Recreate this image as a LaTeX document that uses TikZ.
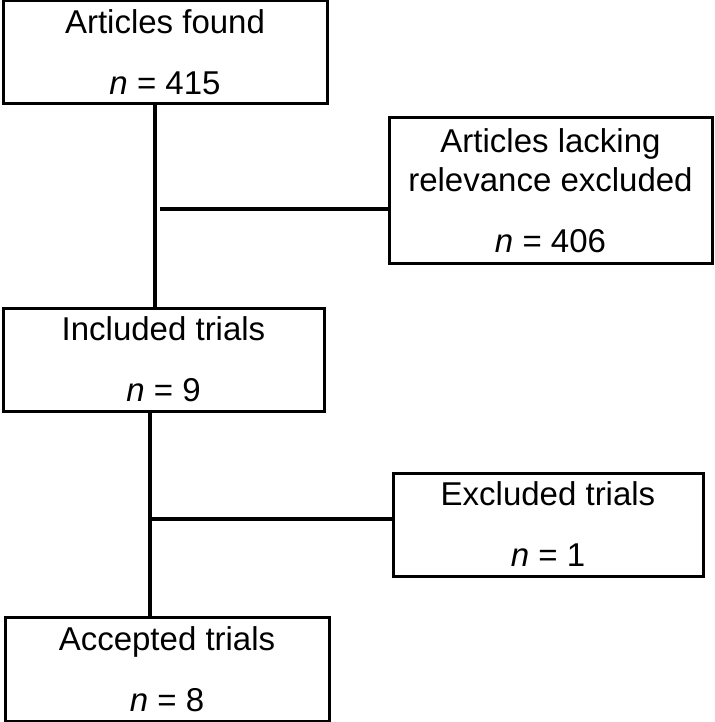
\documentclass[tikz,border=0pt]{standalone}
\usepackage{fontspec}
\setmainfont{Liberation Sans}
\usepackage{tikz}
\usetikzlibrary{calc}
\tikzset{
    box/.style={draw, line width=3pt, align=center, inner sep=0pt, font=\fontsize{33}{39}\selectfont},
    link/.style={line width=3.5pt}
}

\begin{document}
\begin{tikzpicture}[x=1pt, y=-1pt]
    \useasboundingbox (0,0) rectangle (714,722);
    \node[box, minimum width=324, minimum height=103] (found) at (165,52.5) {Articles found\\[22pt]\textit{n} = 415};
    \node[box, minimum width=323, minimum height=145] (lacking) at (550.5,190.5) {Articles lacking\\relevance excluded\\[22pt]\textit{n} = 406};
    \node[box, minimum width=321, minimum height=103] (included) at (163.5,359.5) {Included trials\\[22pt]\textit{n} = 9};
    \node[box, minimum width=310, minimum height=103] (excluded) at (548,524.5) {Excluded trials\\[22pt]\textit{n} = 1};
    \node[box, minimum width=324, minimum height=104] (accepted) at (167,669) {Accepted trials\\[22pt]\textit{n} = 8};
    \coordinate (v1) at (155,0);
    \coordinate (v2) at (150,0);
    \coordinate (h1) at (160,209);
    \coordinate (h2) at (v2 |- 0,519);
    \draw[link] (v1 |- found.south) -- (v1 |- included.north);
    \draw[link] (h1) -- (h1 -| lacking.west);
    \draw[link] (v2 |- included.south) -- (v2 |- accepted.north);
    \draw[link] (h2) -- (h2 -| excluded.west);
\end{tikzpicture}
\end{document}
